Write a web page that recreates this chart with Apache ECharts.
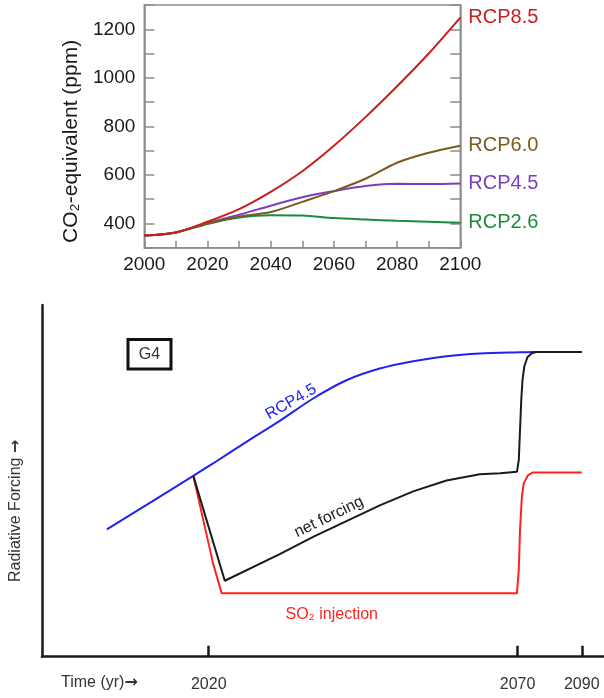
<!DOCTYPE html>
<html>
<head>
<meta charset="utf-8">
<script src="https://cdn.jsdelivr.net/npm/echarts@6/dist/echarts.min.js"></script>
<style>
html,body{margin:0;padding:0;background:#fff;}
#chart{width:604px;height:698px;}
</style>
</head>
<body>
<div id="chart"></div>
<script>
// ---- Top panel: CO2-equivalent concentration (ppm) ----
var years = [2000, 2010, 2020, 2030, 2040, 2050, 2060, 2070, 2080, 2090, 2100];
var rcp85 = [350, 363, 407, 459, 530, 615, 720, 838, 965, 1100, 1248];
var rcp60 = [350, 363, 400, 428, 447, 489, 533, 584, 650, 691, 720];
var rcp45 = [350, 363, 402, 436, 473, 508, 533, 554, 563, 562, 565];
var rcp26 = [350, 363, 398, 424, 434, 433, 422, 416, 411, 407, 403];
var topNames = ['RCP8.5', 'RCP6.0', 'RCP4.5', 'RCP2.6'];

// ---- Bottom panel: G4 schematic (schematic time axis, arbitrary forcing units) ----
var g4TickPos = [2020, 2070, 2080.4];
var g4TickLabels = ['2020', '2070', '2090'];
var blueYears = [2003.5, 2017.5, 2020.7, 2026.1, 2031.5, 2036.9, 2042.3, 2047.7, 2053.1, 2058.5, 2063.9, 2070.4, 2072.7, 2080.4];
var blueVals  = [127.4, 181.0, 193.4, 215.0, 236.0, 258.4, 276.7, 288.4, 295.7, 300.7, 303.4, 304.7, 305.0, 305.0];
var netYears = [2017.5, 2022.6, 2031.5, 2036.9, 2042.3, 2047.7, 2053.1, 2058.5, 2063.9, 2067.2, 2069.9, 2070.2, 2070.4, 2070.6, 2070.8, 2071.1, 2071.6, 2072.3, 2073.0, 2080.4];
var netVals  = [181.0, 76.0, 102.7, 120.0, 135.7, 151.4, 165.5, 176.3, 182.5, 183.7, 185.0, 196.7, 226.7, 256.7, 276.7, 290.7, 299.7, 303.7, 305.0, 305.0];
var so2Years = [2017.5, 2020.7, 2022.1, 2069.9, 2070.2, 2070.4, 2070.7, 2071.0, 2071.7, 2072.5, 2080.4];
var so2Vals  = [181.0, 93.4, 63.4, 63.4, 86.7, 126.7, 159.7, 173.7, 181.7, 184.4, 184.4];

function zip(xs, ys) { return xs.map(function (x, i) { return [x, ys[i]]; }); }

var FONT = 'Liberation Sans, Arial, sans-serif';
var frame = '#8c8c8c';
var topColors = ['#c81e1e', '#7b5a1f', '#7b3fbd', '#1a8c3c'];
var topData = [rcp85, rcp60, rcp45, rcp26];

var series = [];
topData.forEach(function (vals, i) {
  series.push({
    name: topNames[i], type: 'line', xAxisIndex: 0, yAxisIndex: 0,
    data: zip(years, vals), showSymbol: false, smooth: 0.3,
    lineStyle: { color: topColors[i], width: 2 }, itemStyle: { color: topColors[i] },
    endLabel: { show: true, formatter: '{a}', color: topColors[i], fontSize: 20, fontFamily: FONT, distance: 8 },
    z: 10 - i
  });
});
series.push({
  name: 'RCP4.5 forcing', type: 'line', xAxisIndex: 1, yAxisIndex: 2,
  data: zip(blueYears, blueVals), showSymbol: false, smooth: 0.3,
  lineStyle: { color: '#2323f0', width: 2 }, z: 3
});
series.push({
  name: 'SO2 injection', type: 'line', xAxisIndex: 1, yAxisIndex: 2,
  data: zip(so2Years, so2Vals), showSymbol: false,
  lineStyle: { color: '#ff2222', width: 2 }, z: 4
});
series.push({
  name: 'net forcing', type: 'line', xAxisIndex: 1, yAxisIndex: 2,
  data: zip(netYears, netVals), showSymbol: false,
  lineStyle: { color: '#1a1a1a', width: 2 }, z: 5
});

var arrowRich = { a: { fontFamily: 'DejaVu Sans', fontSize: 16, fontWeight: 'bold', fill: '#333', color: '#333' } };

var chart = echarts.init(document.getElementById('chart'));
chart.setOption({
  animation: false,
  backgroundColor: '#fff',
  textStyle: { fontFamily: FONT },
  grid: [
    { left: 144.3, top: 5, width: 316, height: 242.7, show: true, borderColor: frame, borderWidth: 1.5 },
    { left: 42, top: 305, right: 0, height: 351.7 }
  ],
  xAxis: [
    {
      gridIndex: 0, type: 'value', min: 2000, max: 2100, interval: 10,
      axisLine: { lineStyle: { color: frame, width: 1.5 } },
      axisTick: { inside: true, length: 7, lineStyle: { color: frame, width: 1.5 } },
      axisLabel: { formatter: function (v) { return v % 20 === 0 ? String(v) : ''; }, fontSize: 19, color: '#1a1a1a', margin: 8 },
      splitLine: { show: false }
    },
    {
      gridIndex: 1, type: 'value', min: 1993, max: 2084,
      axisLine: { lineStyle: { color: '#1a1a1a', width: 2.5 } },
      axisTick: { inside: true, length: 11, customValues: g4TickPos, lineStyle: { color: '#1a1a1a', width: 2.5 } },
      axisLabel: {
        customValues: g4TickPos,
        formatter: function (v) {
          var best = 0;
          g4TickPos.forEach(function (p, i) { if (Math.abs(p - v) < Math.abs(g4TickPos[best] - v)) best = i; });
          return g4TickLabels[best];
        },
        fontSize: 16, color: '#333', margin: 20
      },
      splitLine: { show: false }
    }
  ],
  yAxis: [
    {
      gridIndex: 0, type: 'value', min: 300, max: 1300, interval: 100,
      name: 'CO₂-equivalent (ppm)', nameLocation: 'middle', nameGap: 58,
      nameTextStyle: { fontSize: 21, color: '#1a1a1a', padding: [0, 30, 0, 0] },
      axisLine: { show: true, lineStyle: { color: frame, width: 1.5 } },
      axisTick: { show: true, inside: true, length: 10, lineStyle: { color: frame, width: 1.5 } },
      axisLabel: { formatter: function (v) { return v % 200 === 0 ? String(v) : ''; }, fontSize: 19, color: '#1a1a1a', margin: 9 },
      splitLine: { show: false }
    },
    {
      gridIndex: 0, type: 'value', min: 300, max: 1300, interval: 100, position: 'right',
      axisLine: { show: true, lineStyle: { color: frame, width: 1.5 } },
      axisTick: { show: true, inside: true, length: 10, lineStyle: { color: frame, width: 1.5 } },
      axisLabel: { show: false },
      splitLine: { show: false }
    },
    {
      gridIndex: 1, type: 'value', min: 0, max: 352,
      name: 'Radiative Forcing {a|→}', nameLocation: 'middle', nameGap: 18,
      nameTextStyle: { fontSize: 16, color: '#333', padding: [0, 60, 0, 0], rich: arrowRich },
      axisLine: { show: true, lineStyle: { color: '#1a1a1a', width: 2.5 } },
      axisTick: { show: false }, axisLabel: { show: false }, splitLine: { show: false }
    }
  ],
  graphic: [
    { type: 'rect', shape: { x: 128, y: 339.5, width: 43, height: 29.5 }, style: { fill: 'none', stroke: '#111', lineWidth: 3 } },
    { type: 'text', x: 149.5, y: 354.5, style: { text: 'G4', fontSize: 16, fontFamily: FONT, fill: '#333', align: 'center', verticalAlign: 'middle' } },
    { type: 'text', x: 291, y: 402, rotation: 30 * Math.PI / 180, style: { text: 'RCP4.5', fontSize: 16, fontFamily: FONT, fill: '#2323f0', align: 'center', verticalAlign: 'middle' } },
    { type: 'text', x: 329, y: 517, rotation: 26 * Math.PI / 180, style: { text: 'net forcing', fontSize: 16, fontFamily: FONT, fill: '#222', align: 'center', verticalAlign: 'middle' } },
    { type: 'text', x: 331.7, y: 615, style: { text: 'SO₂ injection', fontSize: 16, fontFamily: FONT, fill: '#ff2222', align: 'center', verticalAlign: 'middle' } },
    { type: 'text', x: 61, y: 683, style: { text: 'Time (yr){a|→}', fontSize: 16, fontFamily: FONT, fill: '#333', align: 'left', verticalAlign: 'middle', rich: arrowRich } }
  ],
  series: series
});
</script>
</body>
</html>
